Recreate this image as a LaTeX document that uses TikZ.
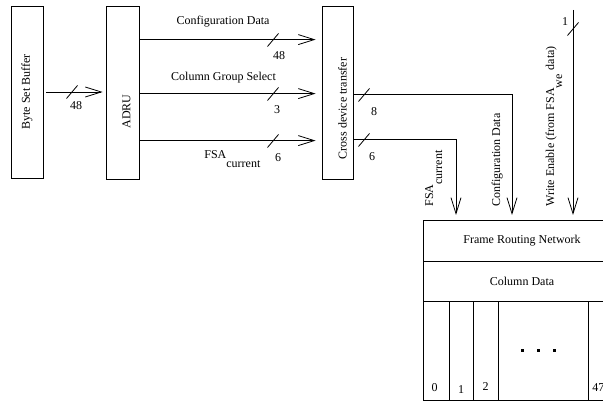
\documentclass[tikz,border=0pt]{standalone}
\usepackage{fontspec}
\setmainfont{Liberation Serif}
\usetikzlibrary{arrows.meta}

\begin{document}
\begin{tikzpicture}[
    x=1pt, y=-1pt,
    line width=0.8pt,
    every node/.style={font=\fontsize{12}{14}\selectfont, inner sep=0pt},
    block/.style={rectangle, draw, minimum width=32pt, minimum height=173pt},
    rowbox/.style={rectangle, draw, outer sep=0pt, minimum width=198pt, anchor=north west},
    cell/.style={rectangle, draw, outer sep=0pt, minimum height=99pt, anchor=north west},
    sig/.style={-{Straight Barb[length=16pt, width=10pt]}},
    bus/.pic={\draw (-5.5,6.5) -- (5.5,-6.5);}
]
\useasboundingbox (0,0) rectangle (603,403);
\clip (0,0) rectangle (603,403);

% blocks on the left
\node[block, minimum height=172pt] (bsb) at (27,92) {};
\node[rotate=90] at (bsb.center) {Byte Set Buffer};
\node[block, minimum width=33pt] (adru) at (122.5,92.5) {};
\node[rotate=90] at ([shift={(4,19)}]adru.center) {ADRU};
\node[block, minimum width=31pt] (cdt) at (337.5,92.5) {};
\node[rotate=90] at ([shift={(5,16)}]cdt.center) {Cross device transfer};

% frame routing network with column data
\node[rowbox, minimum height=41pt] (frn) at (423,220) {Frame Routing Network};
\node[rowbox, minimum height=40pt] (coldata) at (frn.south west) {Column Data};
\node[cell, minimum width=26pt] (c0) at (coldata.south west) {};
\node[cell, minimum width=24pt] (c1) at (c0.north east) {};
\node[cell, minimum width=25pt] (c2) at (c1.north east) {};
\node[cell, minimum width=90pt] (cdots) at (c2.north east) {};
\node[cell, minimum width=33pt] (c47) at (cdots.north east) {};
\node[anchor=base] at ([xshift=-1.5pt, yshift=8pt]c0.south) {0};
\node[anchor=base] at ([yshift=6pt]c1.south) {1};
\node[anchor=base] at ([yshift=9pt]c2.south) {2};
\node[anchor=base west] at ([xshift=4pt, yshift=8pt]c47.south west) {47};
\foreach \x in {522,538,554}
    \fill (\x-1.5,349.5) rectangle ++(3,3);

% byte set buffer to ADRU
\draw[sig, shorten <=3pt, shorten >=3pt] (bsb.east) -- (adru.west |- bsb.east);
\pic at (72,92) {bus};
\node at (76,106) {48};

% ADRU to cross device transfer
\draw[sig, shorten >=6pt] ([yshift=-34pt]adru.north east) -- ([yshift=-34pt]cdt.north west);
\node at (223,22) {Configuration Data};
\pic at (273,40) {bus};
\node at (279,56) {48};

\draw[sig, shorten >=6pt] ([yshift=-88pt]adru.north east) -- ([yshift=-88pt]cdt.north west);
\node at (223.5,78) {Column Group Select};
\pic at (273,94) {bus};
\node at (277,110) {3};

\draw[sig, shorten >=6pt] ([yshift=-135pt]adru.north east) -- ([yshift=-135pt]cdt.north west);
\node[anchor=base west] at (204,159) {FSA\raisebox{-9pt}{current}};
\pic at (273,141) {bus};
\node at (278,158) {6};

% cross device transfer down to the routing network
\draw[sig, shorten >=5pt] ([yshift=-89pt]cdt.north east) -| ([xshift=89pt]frn.north west);
\pic at (364,95) {bus};
\node at (374,112) {8};
\node[rotate=90, anchor=base west] at (500,207) {Configuration Data};

\draw[sig, shorten >=5pt] ([yshift=-134pt]cdt.north east) -| ([xshift=33pt]frn.north west);
\pic at (364,140) {bus};
\node at (372,157) {6};
\node[rotate=90, anchor=base west] at (433,207) {FSA\raisebox{-9pt}{current}};

% write enable
\coordinate (we) at (573,10);
\draw[sig, shorten >=5pt] (we) -- (we |- frn.north);
\pic at (573,29) {bus};
\node at (565,22) {1};
\node[rotate=90, anchor=base west] at (554,207) {Write Enable (from FSA\raisebox{-8pt}{we}\hspace{4pt}data)};
\end{tikzpicture}
\end{document}
